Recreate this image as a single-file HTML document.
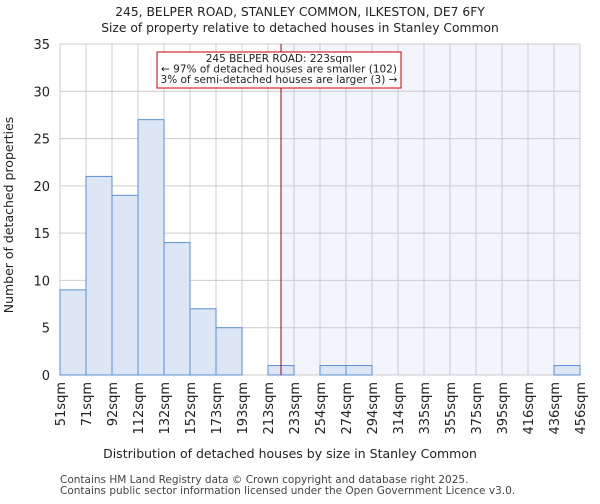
<!DOCTYPE html>
<html><head><meta charset="utf-8"><style>
body{margin:0;background:#fff;font-family:"DejaVu Sans","Liberation Sans",sans-serif}
svg text{font-family:"DejaVu Sans","Liberation Sans",sans-serif}
</style></head><body>
<svg id="chart" width="600" height="500" xmlns="http://www.w3.org/2000/svg">
<text x="300" y="16" font-size="12.3" text-anchor="middle" fill="#222">245, BELPER ROAD, STANLEY COMMON, ILKESTON, DE7 6FY</text>
<text x="300" y="32" font-size="12.3" text-anchor="middle" fill="#222">Size of property relative to detached houses in Stanley Common</text>
<g id="plot"></g>
<text x="290" y="458" font-size="12.5" text-anchor="middle" fill="#222">Distribution of detached houses by size in Stanley Common</text>
<text transform="translate(13,215) rotate(-90)" font-size="12.5" text-anchor="middle" fill="#222">Number of detached properties</text>
<text x="60" y="483" font-size="10.5" fill="#444">Contains HM Land Registry data © Crown copyright and database right 2025.</text>
<text x="60" y="494" font-size="10.5" fill="#444">Contains public sector information licensed under the Open Government Licence v3.0.</text>
</svg>
<script>
const binLabels=["51sqm","71sqm","92sqm","112sqm","132sqm","152sqm","173sqm","193sqm","213sqm","233sqm","254sqm","274sqm","294sqm","314sqm","335sqm","355sqm","375sqm","395sqm","416sqm","436sqm","456sqm"];
const counts=[9,21,19,27,14,7,5,0,1,0,1,1,0,0,0,0,0,0,0,1];
const yTicks=[0,5,10,15,20,25,30,35];
const markerBin=8.5;
const L=60,R=580,T=44,B=375,yMax=35;
const n=counts.length,bw=(R-L)/n;
const x=i=>L+i*bw, y=v=>B-(v/yMax)*(B-T);
const g=document.getElementById('plot');
const NS="http://www.w3.org/2000/svg";
function mk(t,a){const e=document.createElementNS(NS,t);for(const k in a)e.setAttribute(k,a[k]);g.appendChild(e);return e;}
const mx=x(markerBin);
let e=mk('rect',{x:mx,y:T,width:R-mx,height:B-T,fill:'#f2f5fc'});


for(let i=0;i<=n;i++){e=mk('line',{x1:x(i),x2:x(i),y1:T,y2:B,stroke:'#ccc','stroke-width':1});

}
yTicks.forEach(v=>{e=mk('line',{x1:L,x2:R,y1:y(v),y2:y(v),stroke:'#ccc','stroke-width':1});


e=mk('text',{x:L-10,y:y(v)+5,'font-size':13,'text-anchor':'end',fill:'#222'});e.textContent=v;

});
counts.forEach((c,i)=>{if(c<=0)return;e=mk('rect',{x:x(i),y:y(c),width:bw,height:B-y(c),fill:'#dde6f4',stroke:'#5b8fd6','stroke-width':1});

});
binLabels.forEach((l,i)=>{e=mk('text',{transform:`translate(${x(i)+5},382) rotate(-90)`,'font-size':13,'text-anchor':'end',fill:'#222'});e.textContent=l;

});
e=mk('line',{x1:mx,x2:mx,y1:T,y2:B,stroke:'#a00010','stroke-width':1});


e=mk('rect',{x:157,y:52,width:244,height:36,fill:'#fff',stroke:'#c00','stroke-width':1});


["245 BELPER ROAD: 223sqm","← 97% of detached houses are smaller (102)","3% of semi-detached houses are larger (3) →"].forEach((t,k)=>{
e=mk('text',{x:279,y:62+k*10.5,'font-size':10.5,'text-anchor':'middle',fill:'#222'});e.textContent=t;

});
</script>
</body></html>
